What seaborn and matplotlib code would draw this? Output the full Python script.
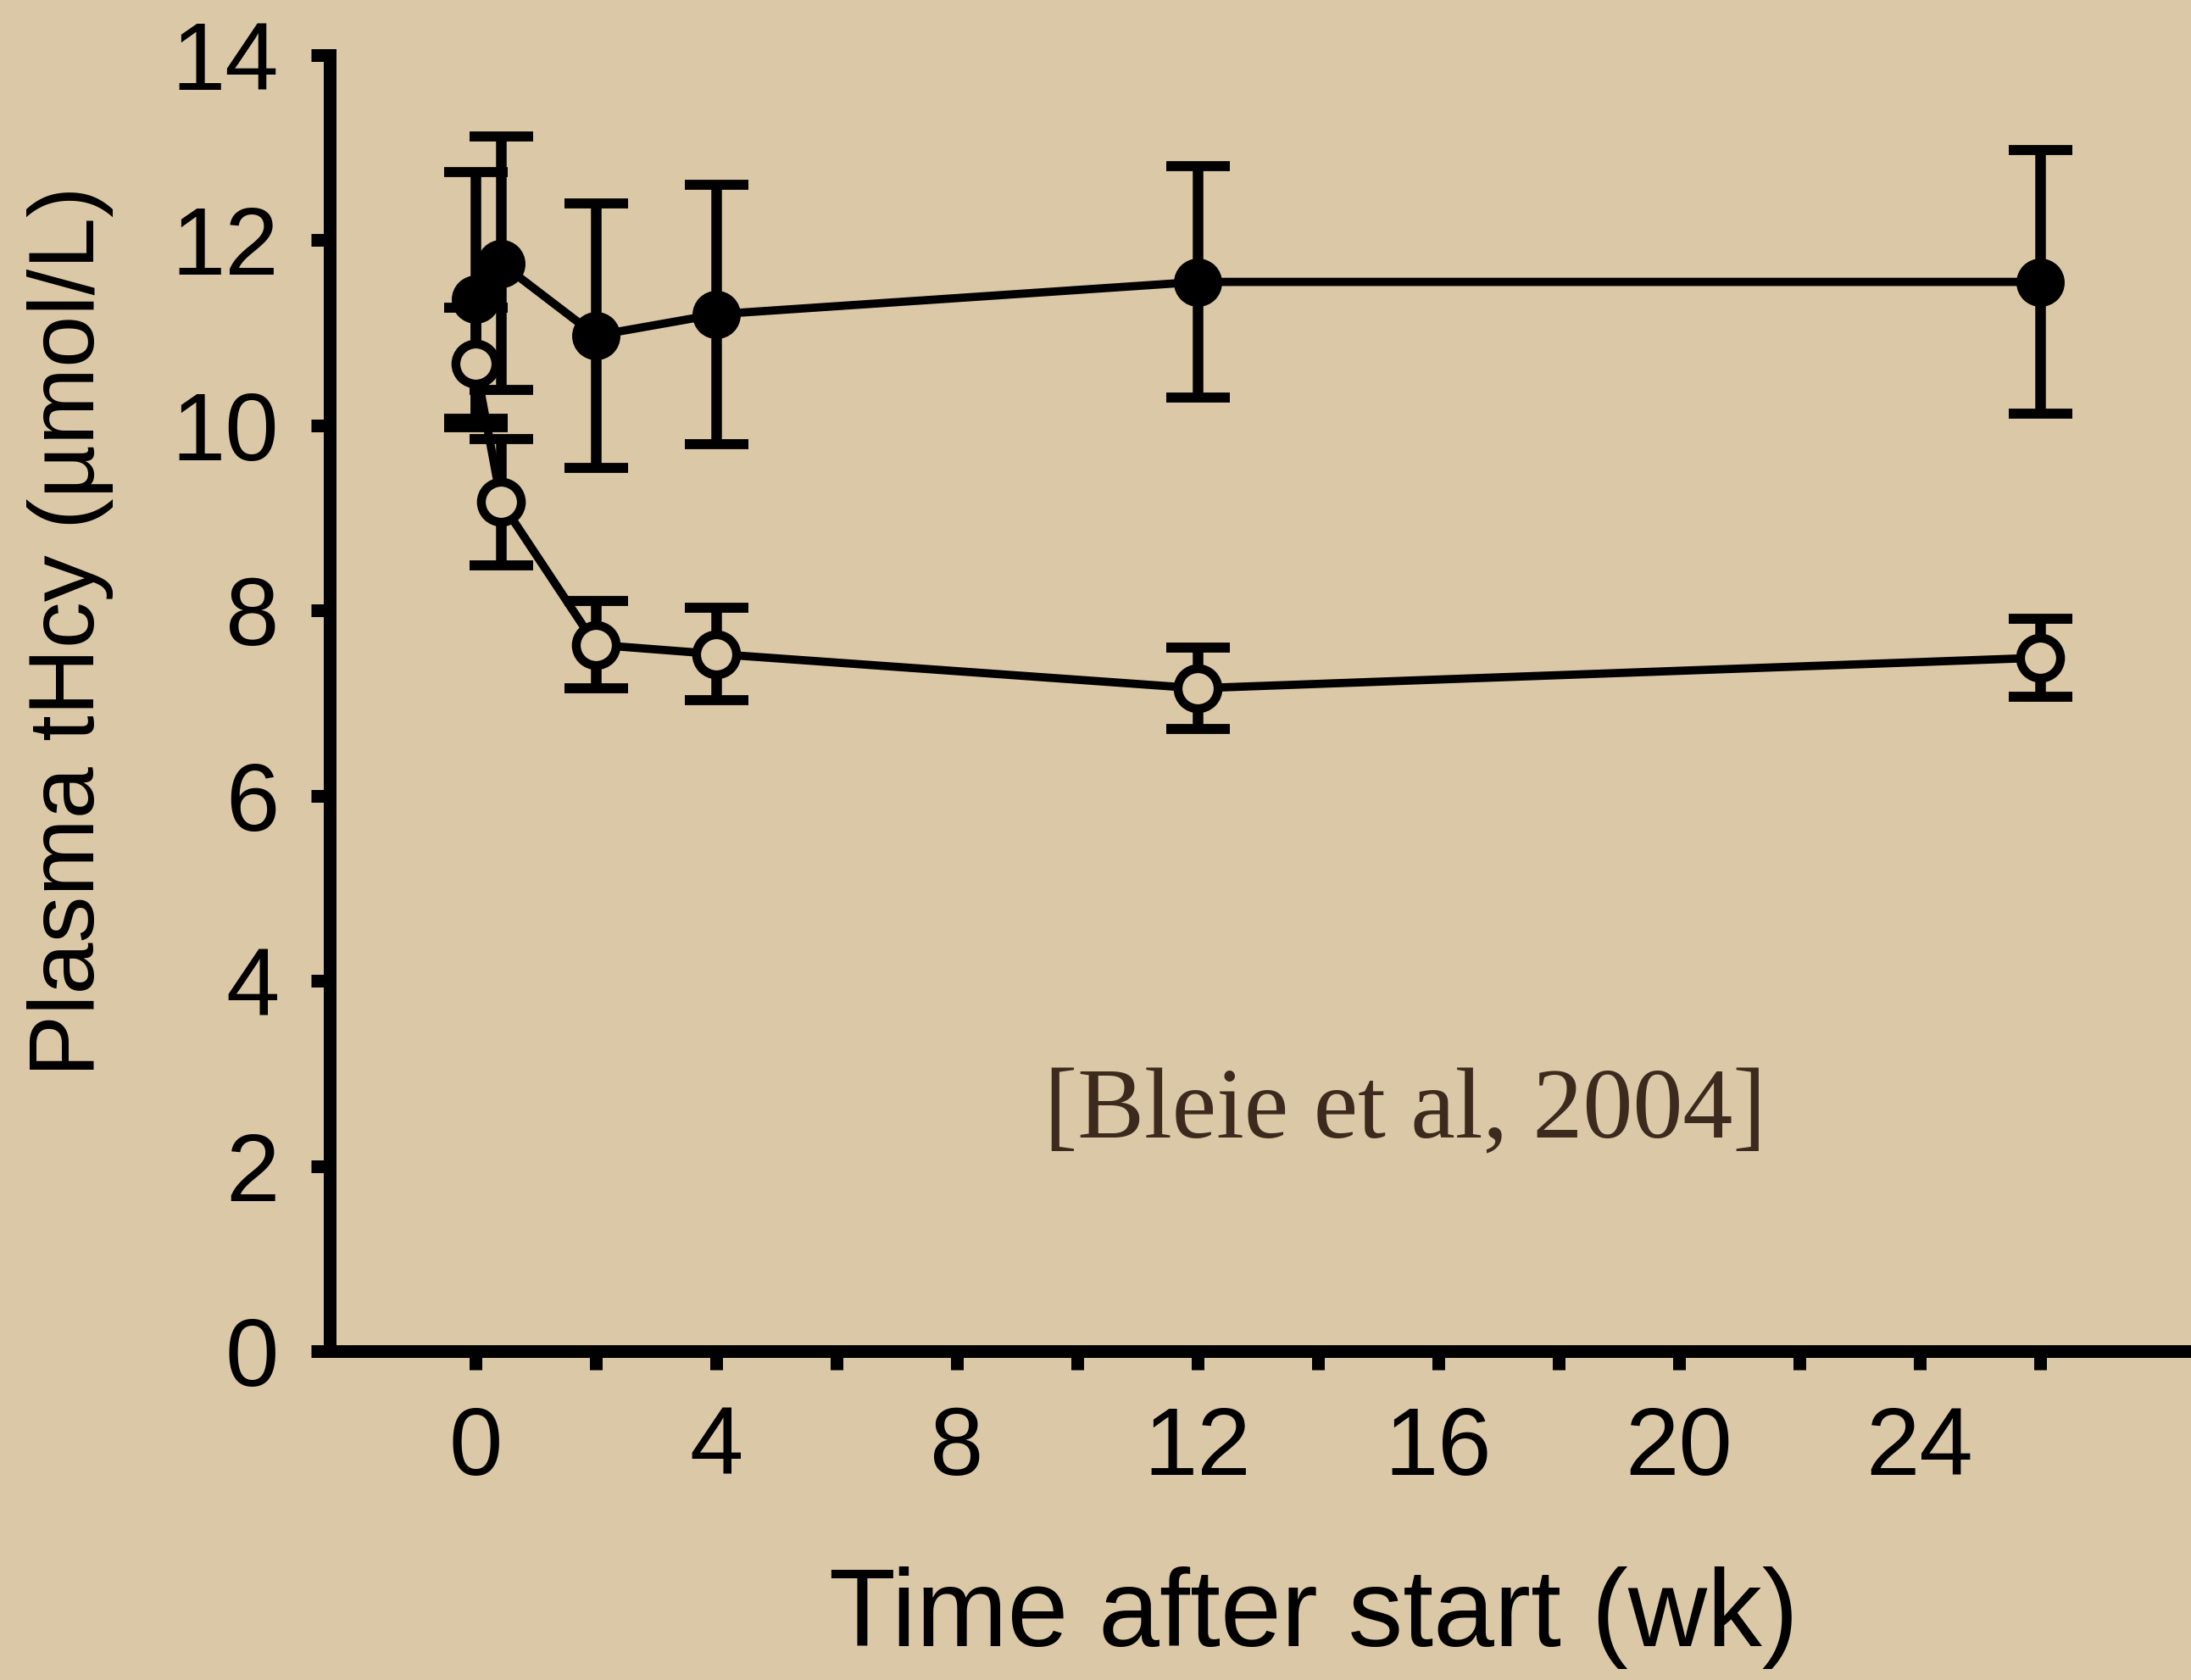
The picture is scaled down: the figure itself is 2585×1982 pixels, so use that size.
import matplotlib
matplotlib.use("Agg")
import matplotlib.pyplot as plt
import seaborn as sns
import pandas as pd

# values (plasma tHcy, µmol/L, mean +/- SEM)
weeks = [0, 0.43, 2, 4, 12, 26]
placebo_mean = [11.36, 11.75, 10.97, 11.20, 11.55, 11.55]
placebo_sem = [1.38, 1.37, 1.43, 1.40, 1.25, 1.42]
treated_mean = [10.67, 9.17, 7.63, 7.53, 7.16, 7.49]
treated_sem = [0.60, 0.68, 0.47, 0.50, 0.44, 0.42]

x_ticks = list(range(0, 27, 2))
x_ticklabels = [str(t) if t % 4 == 0 else "" for t in x_ticks]
y_ticks = list(range(0, 15, 2))

bg = "#dbc8a6"

sns.set_theme(style="ticks")
plt.rcParams["font.family"] = ["Liberation Sans", "DejaVu Sans"]

df = pd.DataFrame({
    "week": weeks,
    "placebo": placebo_mean,
    "treated": treated_mean,
})

fig = plt.figure(figsize=(25.85, 19.82), dpi=100, facecolor=bg)
ax = fig.add_axes([0.1505, 0.1958, 0.8495, 0.7714])
ax.set_facecolor(bg)

# error bars underneath
ax.errorbar(weeks, placebo_mean, yerr=placebo_sem, fmt="none", ecolor="black",
            elinewidth=9, capsize=27, capthick=8.5, zorder=2)
ax.errorbar(weeks, treated_mean, yerr=treated_sem, fmt="none", ecolor="black",
            elinewidth=9, capsize=27, capthick=8.5, zorder=2)

# lines + markers
sns.lineplot(data=df, x="week", y="placebo", color="black", linewidth=7,
             marker="o", markersize=38, markerfacecolor="black",
             markeredgecolor="black", markeredgewidth=3, ax=ax, zorder=3)
sns.lineplot(data=df, x="week", y="treated", color="black", linewidth=7,
             marker="o", markersize=34, markerfacecolor=bg,
             markeredgecolor="black", markeredgewidth=7.5, ax=ax, zorder=4)

ax.set_xlim(-2.42, 28.51)
ax.set_ylim(0, 14)
ax.set_xticks(x_ticks)
ax.set_xticklabels(x_ticklabels)
ax.set_yticks(y_ticks)

sns.despine(ax=ax)
for s in ["left", "bottom"]:
    ax.spines[s].set_linewidth(10.8)
    ax.spines[s].set_color("black")

ax.tick_params(axis="both", direction="out", length=16, width=10.8,
               color="black", labelsize=82, labelcolor="black")
ax.tick_params(axis="x", pad=30)
ax.tick_params(axis="y", pad=27)

ax.set_xlabel("Time after start (wk)", fontsize=93, color="black")
ax.xaxis.label.set_va("baseline")
ax.xaxis.set_label_coords(0.5287, -0.2277)

ax.set_ylabel("Plasma tHcy (µmol/L)", fontsize=79, color="black")
ax.yaxis.set_label_coords(-0.1161, 0.5556)

ax.text(9.45, 2.30, "[Bleie et al, 2004]", fontsize=85,
        family=["Liberation Serif", "DejaVu Serif"], color="#3d2a1e",
        ha="left", va="baseline")

fig.savefig("out.png", dpi=100, facecolor=bg)
